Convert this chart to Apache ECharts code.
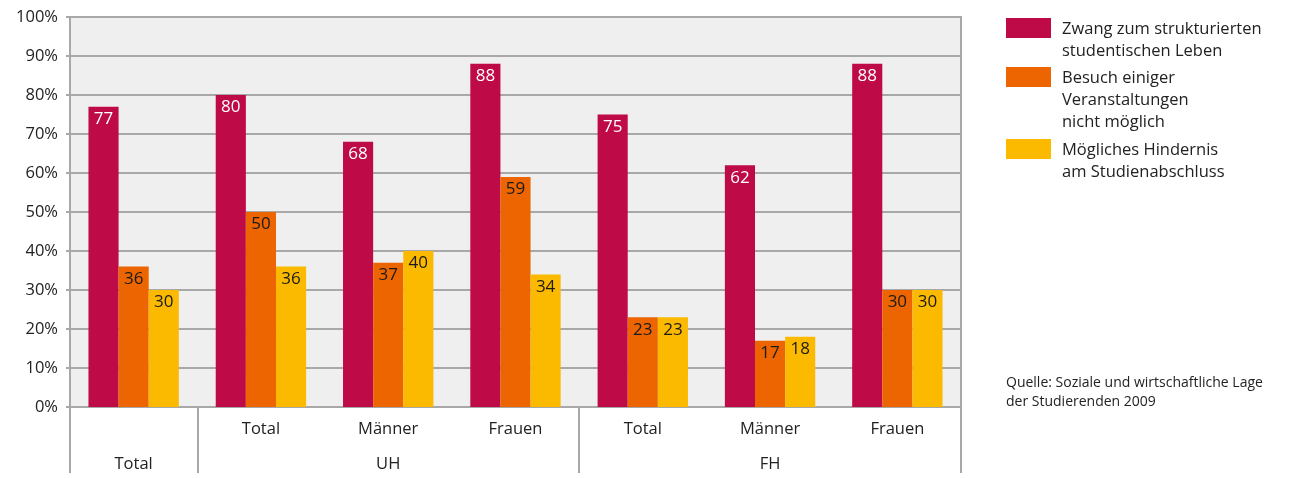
<!DOCTYPE html>
<html><head><meta charset="utf-8">
<script src="https://cdn.jsdelivr.net/npm/echarts@6/dist/echarts.min.js"></script>
<style>html,body{margin:0;padding:0;background:#fff}#c{width:1292px;height:478px}</style>
</head><body><div id="c"></div>
<script>
const subCategories = ['', 'Total', 'Männer', 'Frauen', 'Total', 'Männer', 'Frauen'];
const groupLabels = ['Total', '', 'UH', '', '', 'FH', ''];
const groupBoundaries = [0, 1, 4];
const seriesNames = ['Zwang zum strukturierten\nstudentischen Leben', 'Besuch einiger\nVeranstaltungen\nnicht möglich', 'Mögliches Hindernis\nam Studienabschluss'];
const zwang = [77, 80, 68, 88, 75, 62, 88];
const besuch = [36, 50, 37, 59, 23, 17, 30];
const hindernis = [30, 36, 40, 34, 23, 18, 30];
const colors = ['#be0a46', '#ec6500', '#fbba00'];
const labelColors = ['#ffffff', '#1a1a1a', '#1a1a1a'];
const yTicks = [0, 10, 20, 30, 40, 50, 60, 70, 80, 90, 100];
const sourceText = 'Quelle: Soziale und wirtschaftliche Lage\nder Studierenden 2009';

const FONT = 'Open Sans';
const chart = echarts.init(document.getElementById('c'), null, {renderer: 'canvas'});
const values = [zwang, besuch, hindernis];

const legendItems = [];
const legendTops = [18, 67, 139];
seriesNames.forEach((n, i) => {
  legendItems.push({type: 'rect', left: 1006, top: legendTops[i], shape: {width: 45, height: 20}, style: {fill: colors[i]}});
  legendItems.push({type: 'text', left: 1062, top: legendTops[i], style: {text: n, fill: '#222', font: '16.5px "' + FONT + '"', lineHeight: 22}});
});
legendItems.push({type: 'text', left: 1006, top: 374, style: {text: sourceText, fill: '#222', font: '14px "' + FONT + '"', lineHeight: 19}});

chart.setOption({
  animation: false,
  textStyle: {fontFamily: FONT},
  grid: {left: 70, right: 331, top: 17, bottom: 71, show: true, backgroundColor: '#efefef', borderColor: '#a8a8a8', borderWidth: 2},
  xAxis: [
    {type: 'category', data: subCategories, position: 'bottom',
     axisLine: {lineStyle: {color: '#a8a8a8', width: 2}}, axisTick: {show: false},
     axisLabel: {interval: 0, margin: 14, color: '#222', fontSize: 16.5, fontFamily: FONT}},
    {type: 'category', data: groupLabels, position: 'bottom', gridIndex: 0,
     axisLine: {show: false},
     axisTick: {show: true, length: 66, interval: (i) => groupBoundaries.indexOf(i) >= 0, lineStyle: {color: '#a8a8a8', width: 2}},
     axisLabel: {interval: 0, margin: 49, color: '#222', fontSize: 16.5, fontFamily: FONT}}
  ],
  yAxis: {type: 'value', min: 0, max: 100, interval: 10,
    axisLine: {show: true, lineStyle: {color: '#a8a8a8', width: 2}},
    axisTick: {show: true, length: 4, lineStyle: {color: '#a8a8a8', width: 2}},
    splitLine: {lineStyle: {color: '#a8a8a8', width: 2}},
    axisLabel: {formatter: '{value}%', margin: 12, color: '#222', fontSize: 16.5, fontFamily: FONT}},
  series: values.map((v, i) => ({
    type: 'bar', name: seriesNames[i], data: v, xAxisIndex: 0,
    barGap: 0, barCategoryGap: '29%',
    itemStyle: {color: colors[i]},
    label: {show: true, position: 'insideTop', distance: 4, color: labelColors[i], fontSize: 17, fontFamily: FONT}
  })),
  graphic: legendItems
});
</script></body></html>
